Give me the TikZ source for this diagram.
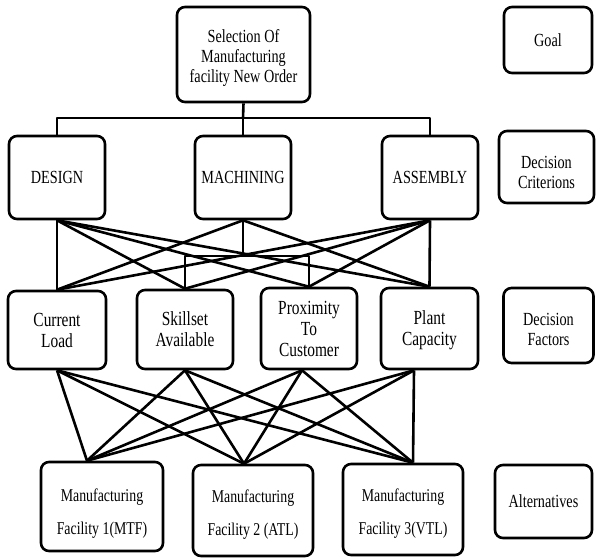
\documentclass[tikz,border=0pt]{standalone}
\usepackage{fontspec}
\setmainfont{Liberation Serif}[FakeStretch=0.77]
\newcommand{\lowertext}[2]{\raisebox{-#1}[\height][\depth]{\begin{tabular}{@{}c@{}}#2\end{tabular}}}
\begin{document}
\begin{tikzpicture}[x=1pt,y=-1pt,
  box/.style={draw, line width=2.6pt, rounded corners=8pt, align=center, inner sep=0pt},
  conn/.style={line width=2.6pt, line join=round},
  goalfont/.style={font=\fontsize{18.5}{20}\selectfont},
  critfont/.style={font=\fontsize{18.5}{20}\selectfont},
  factfont/.style={font=\fontsize{20}{21}\selectfont},
  altfont/.style={font=\fontsize{18}{33}\selectfont}]
\useasboundingbox (0,0) rectangle (596,558);
% goal
\node[box, goalfont, minimum width=133pt, minimum height=95pt] (goal) at (243.5,54.5)
  {\lowertext{3.5pt}{Selection Of\\Manufacturing\\facility New Order}};
% criteria
\node[box, critfont, minimum width=96pt, minimum height=83pt] (design) at (57,177.5) {DESIGN};
\node[box, critfont, minimum width=96pt, minimum height=83pt] (mach) at (243,177.5) {MACHINING};
\node[box, critfont, minimum width=96pt, minimum height=83pt] (assem) at (430,177.5) {ASSEMBLY};
% factors
\node[box, factfont, minimum width=98pt, minimum height=78pt] (cur) at (57,330) {Current\\Load};
\node[box, factfont, minimum width=96pt, minimum height=79pt] (skill) at (185,329.5) {Skillset\\Available};
\node[box, factfont, minimum width=96pt, minimum height=81pt] (prox) at (309,328.5) {Proximity\\To\\Customer};
\node[box, factfont, minimum width=97pt, minimum height=81pt] (plant) at (429.5,328.5) {\lowertext{2pt}{Plant\\Capacity}};
% alternatives
\node[box, altfont, minimum width=122pt, minimum height=89pt] (mtf) at (102,506.5) {\lowertext{5pt}{Manufacturing\\Facility 1(MTF)}};
\node[box, altfont, minimum width=120pt, minimum height=91pt] (atl) at (253,510.5) {\lowertext{1.5pt}{Manufacturing\\Facility 2 (ATL)}};
\node[box, altfont, minimum width=120pt, minimum height=91pt] (vtl) at (403,509.5) {\lowertext{2pt}{Manufacturing\\Facility 3(VTL)}};
% legend
\node[box, critfont, minimum width=88pt, minimum height=66pt] (lgoal) at (548,40) {Goal};
\node[box, critfont, minimum width=95pt, minimum height=72pt] (lcrit) at (546.5,167) {\lowertext{7.5pt}{Decision\\Criterions}};
\node[box, critfont, minimum width=90pt, minimum height=75pt] (lfact) at (548.5,325.5) {\lowertext{6pt}{Decision\\Factors}};
\node[box, critfont, minimum width=97pt, minimum height=73pt] (lalt) at (543.5,501.5) {Alternatives};
% top bus
\coordinate (bus) at (243,118);
\coordinate (mbus) at (243,256);
\draw[conn] (goal.south) -- (bus);
\draw[conn] (design.north) |- (bus) -| (assem.north);
\draw[conn] (bus) -- (mach.north);
% criteria -> factors
\draw[conn] (design.south) -- (cur.north);
\draw[conn] (design.south) -- (skill.north);
\draw[conn] (design.south) -- (prox.north);
\draw[conn] (design.south) -- (plant.north);
\draw[conn] (mach.south) -- (cur.north);
\draw[conn] (mach.south) -- (plant.north);
\draw[conn] (mach.south) -- (mbus);
\draw[conn] (skill.north) |- (mbus) -| (prox.north);
\draw[conn] (assem.south) -- (cur.north);
\draw[conn] (assem.south) -- (skill.north);
\draw[conn] (assem.south) -- (prox.north);
\draw[conn] (assem.south) -- (plant.north);
% factors -> alternatives
\coordinate (f1) at (cur.south);
\coordinate (f2) at (skill.south);
\coordinate (f3) at ([xshift=-7pt]prox.south);
\coordinate (f4) at ([xshift=-15.5pt]plant.south);
\coordinate (a1) at ([xshift=-15pt]mtf.north);
\coordinate (a2) at ([xshift=-9pt]atl.north);
\coordinate (a3) at ([xshift=10pt]vtl.north);
\foreach \f in {f1,f2,f3,f4}{
  \foreach \a in {a1,a2,a3}{
    \draw[conn] (\f) -- (\a);
  }
}
\end{tikzpicture}
\end{document}
